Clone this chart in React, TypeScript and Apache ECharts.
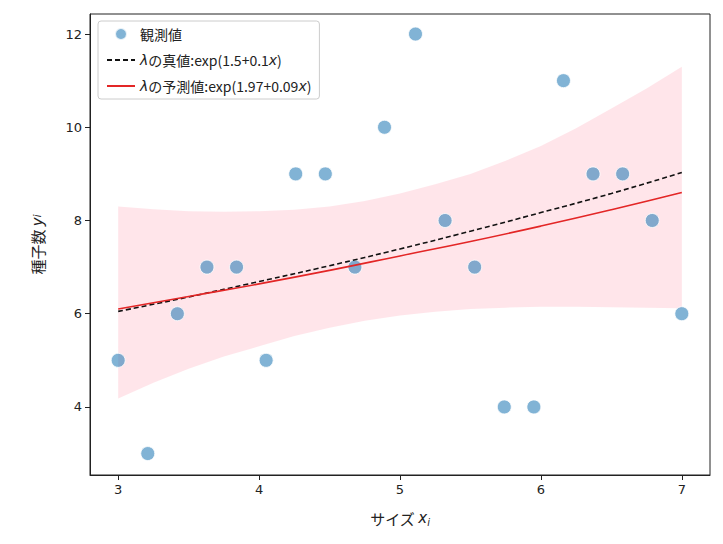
import * as echarts from "echarts";
import { useEffect, useRef } from "react";

const sizes = [3, 3.21, 3.42, 3.63, 3.84, 4.05, 4.26, 4.47, 4.68, 4.89, 5.11, 5.32, 5.53, 5.74, 5.95, 6.16, 6.37, 6.58, 6.79, 7];
const seeds = [5, 3, 6, 7, 7, 5, 9, 9, 7, 10, 12, 8, 7, 4, 4, 11, 9, 9, 8, 6];
const lineX = [3, 3.5, 4, 4.5, 5, 5.5, 6, 6.5, 7];
const trueLambda = [6.05, 6.36, 6.69, 7.03, 7.39, 7.77, 8.17, 8.58, 9.03];
const predLambda = [6.1, 6.37, 6.64, 6.93, 7.24, 7.55, 7.88, 8.23, 8.6];
const bandX = [3, 3.25, 3.5, 3.75, 4, 4.25, 4.5, 4.75, 5, 5.25, 5.5, 5.75, 6, 6.25, 6.5, 6.75, 7];
const bandLow = [4.18, 4.52, 4.82, 5.08, 5.3, 5.52, 5.7, 5.85, 5.96, 6.04, 6.1, 6.13, 6.15, 6.15, 6.14, 6.13, 6.12];
const bandHigh = [8.3, 8.24, 8.2, 8.19, 8.2, 8.23, 8.3, 8.42, 8.58, 8.78, 9.0, 9.28, 9.6, 9.98, 10.4, 10.83, 11.3];

const FONT = "DejaVu Sans";
const hideIcon = { itemStyle: { opacity: 0 }, lineStyle: { opacity: 1 } };

export default function App() {
  const ref = useRef<HTMLDivElement>(null);

  useEffect(() => {
    const chart = echarts.init(ref.current!, null, { renderer: "svg" });
    chart.setOption({
      animation: false,
      textStyle: { fontFamily: FONT },
      grid: { left: 90, right: 13, top: 14, bottom: 69, show: true, borderColor: "#222", borderWidth: 1 },
      legend: {
        left: 98,
        top: 21,
        orient: "vertical",
        backgroundColor: "rgba(255,255,255,0.8)",
        borderColor: "#ccc",
        borderWidth: 1,
        borderRadius: 3,
        padding: [6, 8],
        itemGap: 12,
        itemWidth: 28,
        itemHeight: 12,
        data: [
          { name: "obs", icon: "circle" },
          { name: "true", ...hideIcon },
          { name: "pred", ...hideIcon },
        ],
        formatter: (n: string) =>
          n === "obs"
            ? "{n|観測値}"
            : n === "true"
            ? "{i|λ}{n|の真値:exp(1.5+0.1}{i|x}{n|)}"
            : "{i|λ}{n|の予測値:exp(1.97+0.09}{i|x}{n|)}",
        textStyle: {
          rich: {
            n: { fontSize: 14, color: "#222", fontFamily: "Noto Sans CJK JP" },
            i: { fontSize: 14, color: "#222", fontStyle: "italic", fontFamily: FONT },
          },
        },
      },
      xAxis: {
        type: "value",
        min: 2.8,
        max: 7.2,
        interval: 1,
        splitLine: { show: false },
        axisLine: { onZero: false, lineStyle: { color: "#222" } },
        axisTick: { lineStyle: { color: "#222" }, customValues: [3, 4, 5, 6, 7] },
        axisLabel: { color: "#222", fontSize: 13, customValues: [3, 4, 5, 6, 7] },
        name: "{n|サイズ }{i|x}{s|i}",
        nameLocation: "middle",
        nameGap: 34,
        nameTextStyle: {
          rich: {
            n: { fontSize: 15, color: "#222", fontFamily: "Noto Sans CJK JP" },
            i: { fontSize: 15, color: "#222", fontStyle: "italic" },
            s: { fontSize: 10, color: "#222", fontStyle: "italic", padding: [8, 0, 0, 0] },
          },
        },
      },
      yAxis: {
        type: "value",
        min: 2.54,
        max: 12.43,
        splitLine: { show: false },
        axisLine: { show: true, onZero: false, lineStyle: { color: "#222" } },
        axisTick: { show: true, lineStyle: { color: "#222" }, customValues: [4, 6, 8, 10, 12] },
        axisLabel: { color: "#222", fontSize: 13, customValues: [4, 6, 8, 10, 12] },
        name: "{n|種子数 }{i|y}{s|i}",
        nameLocation: "middle",
        nameGap: 45,
        nameRotate: 90,
        nameTextStyle: {
          rich: {
            n: { fontSize: 15, color: "#222", fontFamily: "Noto Sans CJK JP" },
            i: { fontSize: 15, color: "#222", fontStyle: "italic" },
            s: { fontSize: 10, color: "#222", fontStyle: "italic" },
          },
        },
      },
      series: [
        {
          type: "custom",
          name: "band",
          silent: true,
          data: [0],
          renderItem: (_p: any, api: any) => {
            const up = bandX.map((x, i) => api.coord([x, bandHigh[i]]));
            const lo = bandX.map((x, i) => api.coord([x, bandLow[i]])).reverse();
            return {
              type: "polygon",
              shape: { points: [...up, ...lo] },
              style: { fill: "rgba(255,170,185,0.3)" },
            };
          },
          z: 1,
        },
        {
          type: "scatter",
          name: "obs",
          data: sizes.map((x, i) => [x, seeds[i]]),
          symbolSize: 14,
          itemStyle: { color: "rgba(31,119,180,0.7)", borderColor: "#fff", borderWidth: 1 },
          z: 5,
        },
        {
          type: "line",
          name: "true",
          data: lineX.map((x, i) => [x, trueLambda[i]]),
          symbol: "none",
          smooth: true,
          color: "#111",
          lineStyle: { color: "#111", width: 1.6, type: [5, 3] },
          z: 6,
        },
        {
          type: "line",
          name: "pred",
          data: lineX.map((x, i) => [x, predLambda[i]]),
          symbol: "none",
          smooth: true,
          color: "#e32626",
          lineStyle: { color: "#e32626", width: 1.6 },
          z: 6,
        },
      ],
    });
    return () => chart.dispose();
  }, []);

  return <div ref={ref} style={{ width: 723, height: 544, margin: -8, background: "#fff" }} />;
}
